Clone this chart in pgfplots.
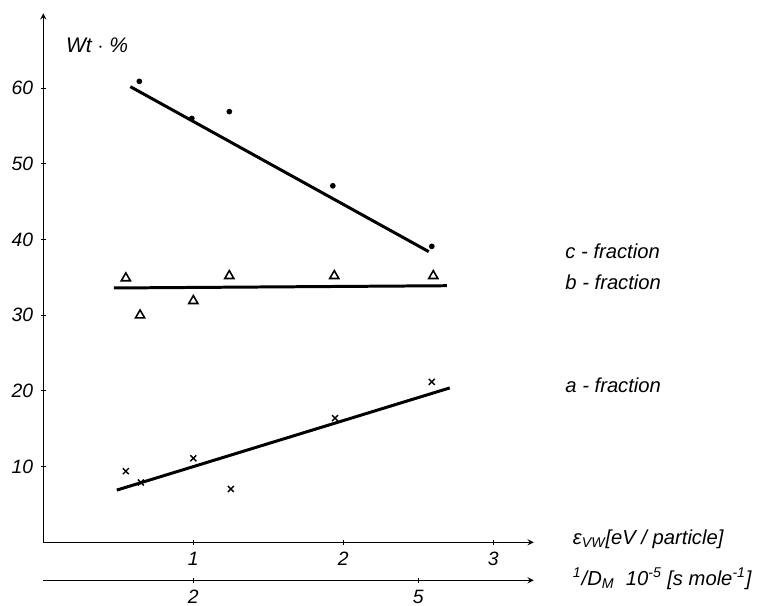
\documentclass[border=0pt]{standalone}
\usepackage{fontspec}
\setmainfont{Liberation Sans}
\usepackage{pgfplots}
\pgfplotsset{compat=1.18}
\usetikzlibrary{arrows.meta,calc}

\pgfplotsset{
  scan/.style={
    axis line style={line width=0.6pt,-{Stealth[length=7pt,width=3.2pt]}},
    tick style={line width=0.6pt,black},
    tick align=outside, major tick length=2.5pt,
    tick label style={font=\fontsize{11}{12}\selectfont\itshape},
    /pgf/number format/assume math mode=true,
    clip=false,
  },
  fit/.style={line width=1.7pt,black,no marks},
}

\begin{document}
\begin{tikzpicture}
\begin{axis}[scan, name=main,
  x=30mm, y=1.514mm,
  xmin=0, xmax=3.27, ymin=0, ymax=69.9,
  axis lines=left,
  xtick={1,2,3}, ytick={10,20,30,40,50,60},
  xticklabel style={yshift=-1pt},
  yticklabel style={xshift=-1pt},
]
% c-fraction
\addplot[only marks, mark=*, mark size=1.4pt] coordinates {
  (0.64,60.9) (0.99,56.0) (1.24,56.9) (1.93,47.1) (2.59,39.1)};
\addplot[fit] coordinates {(0.58,60.2) (2.57,38.4)};
% b-fraction
\addplot[only marks, mark=triangle, mark size=3pt, mark options={line width=0.9pt}] coordinates {
  (0.55,34.9) (0.645,30.0) (1.0,31.9) (1.24,35.2) (1.94,35.2) (2.60,35.2)};
\addplot[fit] coordinates {(0.47,33.6) (2.69,33.9)};
% a-fraction
\addplot[only marks, mark=x, mark size=2.4pt, mark options={line width=0.8pt}] coordinates {
  (0.55,9.4) (0.65,7.9) (1.0,11.1) (1.25,7.05) (1.945,16.4) (2.59,21.2)};
\addplot[fit] coordinates {(0.49,6.9) (2.71,20.4)};

\node[anchor=west, font=\fontsize{12}{13}\selectfont\itshape] at (axis cs:0.11,65.6) {Wt $\cdot$ \%};
\node[anchor=west, font=\fontsize{11.5}{13}\selectfont\itshape] at (axis cs:3.44,38.5) {c - fraction};
\node[anchor=west, font=\fontsize{11.5}{13}\selectfont\itshape] at (axis cs:3.44,34.3) {b - fraction};
\node[anchor=west, font=\fontsize{11.5}{13}\selectfont\itshape] at (axis cs:3.44,20.7) {a - fraction};
\node[anchor=west, font=\fontsize{11.5}{13}\selectfont\itshape] at (axis cs:3.49,0.4) {ε\textsubscript{VW}[eV / particle]};

\coordinate (origin) at (axis cs:0,0);
\coordinate (bl) at (axis cs:-0.289,-8.40);
\coordinate (tr) at (axis cs:4.845,71.65);
\end{axis}

\begin{axis}[scan,
  at={($(origin)+(0,-7.6mm)$)}, anchor=south west,
  x=15mm, y=1mm,
  xmin=0, xmax=6.54, ymin=0, ymax=1,
  axis x line=bottom, axis y line=none,
  xtick={2,5}, ytick=\empty,
  xticklabel style={yshift=-1pt},
]
\addplot[draw=none] coordinates {(0,0) (6.54,0)};
\node[anchor=west, font=\fontsize{11.5}{13}\selectfont\itshape] at (axis cs:6.98,0.3)
  {\textsuperscript{1}/D\textsubscript{M}\ \ 10\textsuperscript{-5} [s mole\textsuperscript{-1}]};
\end{axis}

\pgfresetboundingbox
\path[use as bounding box] (bl) rectangle (tr);
\end{tikzpicture}
\end{document}
